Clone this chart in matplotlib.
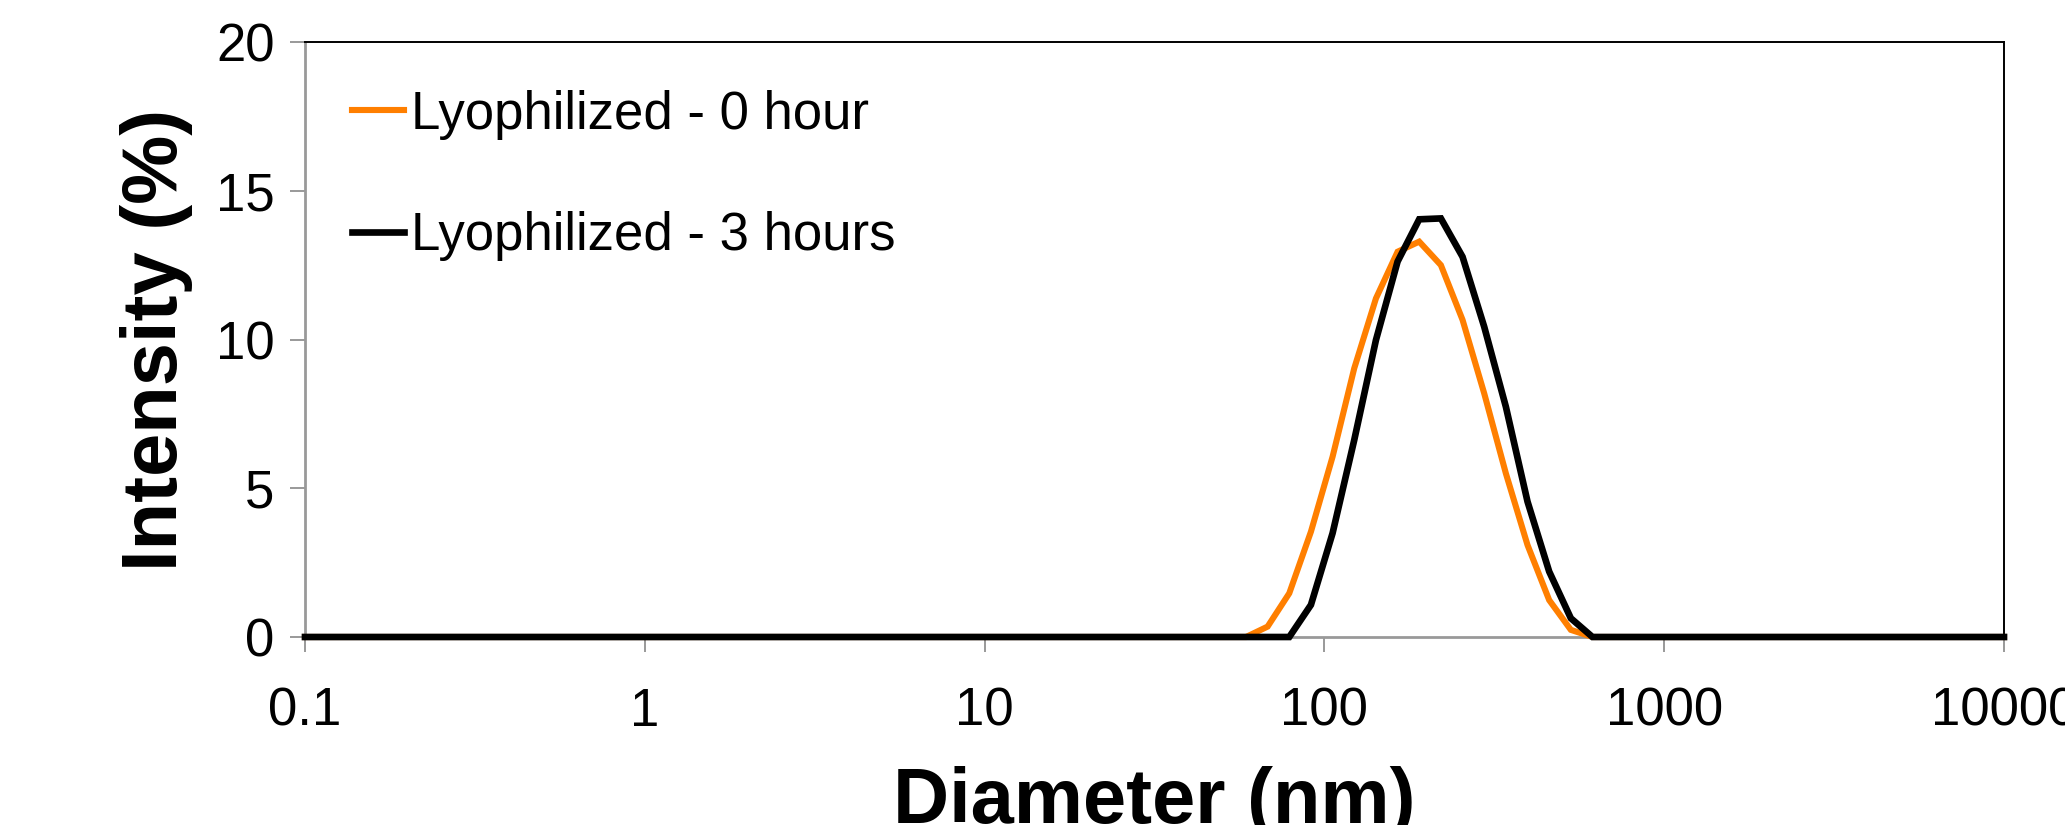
import numpy as np
import matplotlib.pyplot as plt

# ---------------------------------------------------------------
# Size distribution by intensity (DLS), lyophilized samples
# ---------------------------------------------------------------
plt.rcParams['font.family'] = ['Liberation Sans', 'DejaVu Sans']

diam_0h = [0.1, 58.77, 68.06, 78.82, 91.28, 105.7, 122.4, 141.8, 164.2, 190.1,
           220.2, 255.0, 295.3, 342.0, 396.1, 458.7, 531.2, 615.1, 10000]
int_0h = [0, 0, 0.35, 1.47, 3.54, 6.06, 9.03, 11.38, 12.95, 13.29,
          12.50, 10.66, 8.19, 5.50, 3.09, 1.24, 0.24, 0, 0]

diam_3h = [0.1, 78.82, 91.28, 105.7, 122.4, 141.8, 164.2, 190.1, 220.2,
           255.0, 295.3, 342.0, 396.1, 458.7, 531.2, 615.1, 10000]
int_3h = [0, 0, 1.08, 3.49, 6.62, 9.98, 12.62, 14.04, 14.07,
          12.78, 10.43, 7.74, 4.55, 2.20, 0.63, 0, 0]

x_ticks = [0.1, 1, 10, 100, 1000, 10000]
x_labels = ["0.1", "1", "10", "100", "1000", "10000"]
y_ticks = [0, 5, 10, 15, 20]

fig = plt.figure(figsize=(20.65, 8.25), dpi=100)
ax = fig.add_axes([305 / 2065, 1 - 637 / 825, (2004 - 305) / 2065, (637 - 42) / 825])

ax.plot(diam_0h, int_0h, color='#ff7f00', linewidth=4.4, label='Lyophilized - 0 hour',
        solid_joinstyle='miter', clip_on=False, zorder=3)
ax.plot(diam_3h, int_3h, color='black', linewidth=4.8, label='Lyophilized - 3 hours',
        solid_joinstyle='miter', clip_on=False, zorder=4)

ax.set_xscale('log')
ax.set_xlim(0.1, 10000)
ax.set_ylim(0, 20)
ax.set_xticks(x_ticks)
ax.set_xticklabels(x_labels)
ax.xaxis.set_minor_locator(plt.NullLocator())
ax.set_yticks(y_ticks)

ax.tick_params(axis='x', direction='out', length=11, width=1.4, color='#999999',
               labelsize=38, pad=25)
ax.tick_params(axis='y', direction='out', length=11, width=1.4, color='#999999',
               labelsize=38, pad=11)

for side in ['left', 'bottom']:
    ax.spines[side].set_color('#999999')
    ax.spines[side].set_linewidth(2)
for side in ['top', 'right']:
    ax.spines[side].set_color('black')
    ax.spines[side].set_linewidth(1.4)

ax.set_xlabel("Diameter (nm)", fontsize=56, fontweight='bold', labelpad=21)
ax.set_ylabel("Intensity (%)", fontsize=56, fontweight='bold', labelpad=16)

ax.legend(loc='upper left', bbox_to_anchor=(0.015, 0.955), frameon=False, fontsize=38,
          handlelength=1.0, handletextpad=0.12, labelspacing=1.35, borderaxespad=0)

plt.savefig("out.png", dpi=100)
